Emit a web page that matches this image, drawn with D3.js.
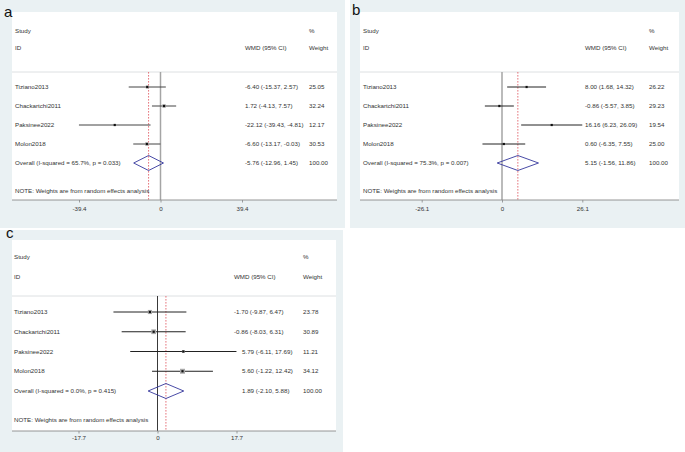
<!DOCTYPE html>
<html>
<head>
<meta charset="utf-8">
<script src="https://cdn.jsdelivr.net/npm/d3@7"></script>
<style>
  body { margin: 0; background: #fff; }
  svg { display: block; font-family: "Liberation Sans", Arial, sans-serif; }
</style>
</head>
<body>
<svg id="chart" width="685" height="452"></svg>
<script>
// shared study labels
const studies = ["Tiziano2013", "Chackartchi2011", "Paksinee2022", "Molon2018"];

// panel a
const estA = [-6.40, 1.72, -22.12, -6.60];
const lowA = [-15.37, -4.13, -39.43, -13.17];
const highA = [2.57, 7.57, -4.81, -0.03];
const weightA = [25.05, 32.24, 12.17, 30.53];
const overallA = [-5.76, -12.96, 1.45];
const hetA = "Overall  (I-squared = 65.7%, p = 0.033)";
const ticksA = [-39.4, 0, 39.4];

// panel b
const estB = [8.00, -0.86, 16.16, 0.60];
const lowB = [1.68, -5.57, 6.23, -6.35];
const highB = [14.32, 3.85, 26.09, 7.55];
const weightB = [26.22, 29.23, 19.54, 25.00];
const overallB = [5.15, -1.56, 11.86];
const hetB = "Overall  (I-squared = 75.3%, p = 0.007)";
const ticksB = [-26.1, 0, 26.1];

// panel c
const estC = [-1.70, -0.86, 5.79, 5.60];
const lowC = [-9.87, -8.03, -6.11, -1.22];
const highC = [6.47, 6.31, 17.69, 12.42];
const weightC = [23.78, 30.89, 11.21, 34.12];
const overallC = [1.89, -2.10, 5.88];
const hetC = "Overall  (I-squared = 0.0%, p = 0.415)";
const ticksC = [-17.7, 0, 17.7];

const note = "NOTE: Weights are from random effects analysis";

const svg = d3.select("#chart");

function fmt(v) {
  return v.toFixed(2);
}

function ciText(e, l, h) {
  return `${fmt(e)} (${fmt(l)}, ${fmt(h)})`;
}

function drawPanel(p) {
  const g = svg.append("g");

  // graph region + plot region
  g.append("rect")
    .attr("x", p.bg[0]).attr("y", p.bg[1])
    .attr("width", p.bg[2]).attr("height", p.bg[3])
    .attr("fill", "#eaf1f3");
  g.append("rect")
    .attr("x", p.plot[0]).attr("y", p.plot[1])
    .attr("width", p.plot[2]).attr("height", p.plot[3])
    .attr("fill", "#fff");

  const x = d3.scaleLinear()
    .domain([p.ticks[0], p.ticks[2]])
    .range(p.xRange);

  const y = d3.scaleLinear()
    .domain([0, 4])
    .range(p.rowRange);

  const axisY = p.plot[1] + p.plot[3];

  const textColor = "#333";
  const fs = 6.2;

  function txt(tx, ty, s, anchor) {
    g.append("text")
      .attr("x", tx).attr("y", ty)
      .attr("dy", "0.35em")
      .attr("font-size", fs)
      .attr("fill", textColor)
      .attr("text-anchor", anchor || "start")
      .text(s);
  }

  // header
  txt(p.labelX, p.headY[0], "Study");
  txt(p.labelX, p.headY[1], "ID");
  txt(p.pctX, p.headY[0], "%");
  txt(p.ciX, p.headY[1], "WMD (95% CI)");
  txt(p.pctX, p.headY[1], "Weight");

  g.append("line")
    .attr("x1", p.plot[0]).attr("x2", p.plot[0] + p.plot[2])
    .attr("y1", p.sepY).attr("y2", p.sepY)
    .attr("stroke", "#d4d8da").attr("stroke-width", 0.8);

  // null line
  g.append("line")
    .attr("x1", x(0)).attr("x2", x(0))
    .attr("y1", p.sepY).attr("y2", axisY)
    .attr("stroke", p.zeroColor).attr("stroke-width", p.zeroWidth);

  // overall estimate line
  g.append("line")
    .attr("x1", x(p.overall[0])).attr("x2", x(p.overall[0]))
    .attr("y1", p.sepY).attr("y2", axisY)
    .attr("stroke", "#e0505a").attr("stroke-width", 0.8)
    .attr("stroke-dasharray", "1.6,1.4");

  // studies
  studies.forEach(function (name, i) {
    const yy = y(i);
    g.append("line")
      .attr("x1", x(p.low[i])).attr("x2", x(p.high[i]))
      .attr("y1", yy).attr("y2", yy)
      .attr("stroke", p.ciColor).attr("stroke-width", 1);

    const side = p.boxK * Math.sqrt(p.weight[i]);
    g.append("rect")
      .attr("x", x(p.est[i]) - side / 2).attr("y", yy - side / 2)
      .attr("width", side).attr("height", side)
      .attr("fill", "#a8a8a8");
    g.append("rect")
      .attr("x", x(p.est[i]) - 1.1).attr("y", yy - 1.1)
      .attr("width", 2.2).attr("height", 2.2)
      .attr("fill", "#111");

    txt(p.labelX, yy, name);
    const cx = p.est[i] < 0 ? p.ciX : p.ciX + p.posShift;
    txt(cx, yy, ciText(p.est[i], p.low[i], p.high[i]));
    txt(p.pctX, yy, fmt(p.weight[i]));
  });

  // overall diamond
  const oy = y(4);
  const o = p.overall;
  g.append("path")
    .attr("d", `M${x(o[1])},${oy} L${x(o[0])},${oy - 7.5} L${x(o[2])},${oy} L${x(o[0])},${oy + 7.5} Z`)
    .attr("fill", "none")
    .attr("stroke", "#34379c")
    .attr("stroke-width", 0.9);

  txt(p.labelX, oy, p.het);
  const ox = o[0] < 0 ? p.ciX : p.ciX + p.posShift;
  txt(ox, oy, ciText(o[0], o[1], o[2]));
  txt(p.pctX, oy, "100.00");

  txt(p.labelX, p.noteY, note);

  // bottom axis
  const axis = d3.axisBottom(x)
    .tickValues(p.ticks)
    .tickSize(2.5)
    .tickPadding(p.tickPad)
    .tickFormat(function (d) { return d === 0 ? "0" : d.toFixed(1); });

  const ax = g.append("g")
    .attr("transform", `translate(0,${axisY})`)
    .call(axis);
  ax.select(".domain").remove();
  ax.selectAll("line").attr("stroke", "#777").attr("stroke-width", 0.7);
  ax.selectAll("text")
    .attr("font-size", fs)
    .attr("fill", textColor)
    .attr("font-family", "Liberation Sans, Arial, sans-serif");

  g.append("line")
    .attr("x1", p.plot[0]).attr("x2", p.plot[0] + p.plot[2])
    .attr("y1", axisY).attr("y2", axisY)
    .attr("stroke", "#8a8a8a").attr("stroke-width", 0.9);

  // panel letter
  g.append("text")
    .attr("x", p.letterPos[0]).attr("y", p.letterPos[1])
    .attr("font-size", 15)
    .attr("fill", "#111")
    .text(p.letter);
}

drawPanel({
  letter: "a", letterPos: [4, 17],
  bg: [0, 0, 345, 228], plot: [12, 12, 325, 188],
  xRange: [79, 242], rowRange: [87, 163],
  headY: [31, 48], sepY: 72, noteY: 191, tickPad: 4,
  labelX: 15, ciX: 245, posShift: 0, pctX: 309,
  zeroColor: "#a5a5a5", zeroWidth: 1.5, ciColor: "#444", boxK: 0.6,
  est: estA, low: lowA, high: highA, weight: weightA,
  overall: overallA, het: hetA, ticks: ticksA
});

drawPanel({
  letter: "b", letterPos: [352, 15],
  bg: [350, 0, 335, 228], plot: [360, 12, 319, 188],
  xRange: [421.7, 582.3], rowRange: [87, 163],
  headY: [31, 48], sepY: 72, noteY: 191, tickPad: 4,
  labelX: 363, ciX: 585, posShift: 0, pctX: 649,
  zeroColor: "#a5a5a5", zeroWidth: 1.5, ciColor: "#222", boxK: 0.4,
  est: estB, low: lowB, high: highB, weight: weightB,
  overall: overallB, het: hetB, ticks: ticksB
});

drawPanel({
  letter: "c", letterPos: [6, 238],
  bg: [0, 230, 343, 222], plot: [12, 240, 324, 191],
  xRange: [78.5, 236.5], rowRange: [312, 391],
  headY: [257, 277], sepY: 296, noteY: 420, tickPad: 2,
  labelX: 14, ciX: 234, posShift: 8, pctX: 303,
  zeroColor: "#222", zeroWidth: 0.9, ciColor: "#222", boxK: 0.85,
  est: estC, low: lowC, high: highC, weight: weightC,
  overall: overallC, het: hetC, ticks: ticksC
});
</script>
</body>
</html>
